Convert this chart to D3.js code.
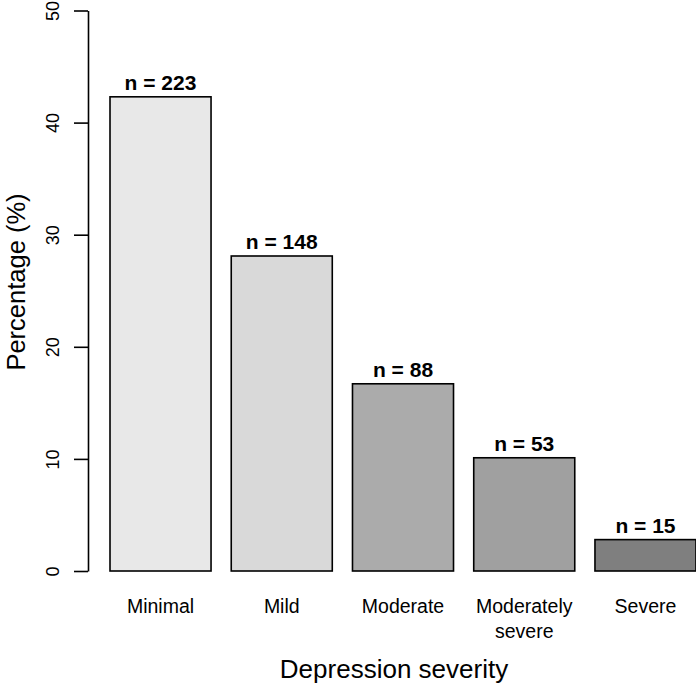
<!DOCTYPE html>
<html>
<head>
<meta charset="utf-8">
<script src="https://cdn.jsdelivr.net/npm/d3@7"></script>
<style>
  body { margin: 0; background: #fff; }
  svg { display: block; font-family: "Liberation Sans", Arial, sans-serif; }
</style>
</head>
<body>
<div id="chart"></div>
<script>
// Depression severity categories (second line of a label goes after "\n")
const categories = ["Minimal", "Mild", "Moderate", "Moderately\nsevere", "Severe"];
// Percentage of respondents in each category
const percentages = [42.3, 28.1, 16.7, 10.1, 2.8];
// Counts written above the bars
const counts = [223, 148, 88, 53, 15];
// Bar fill greys
const fills = ["#e8e8e8", "#d9d9d9", "#ababab", "#a0a0a0", "#7f7f7f"];
// Y axis ticks
const yTicks = [0, 10, 20, 30, 40, 50];

const width = 696, height = 685;

//Plot bounds
const plot = {left: 89.8, right: 716.2, top: 10.5, bottom: 571};

const svg = d3.select("#chart").append("svg")
    .attr("width", width)
    .attr("height", height);

//Scales
const xScale = d3.scaleBand()
    .domain(categories)
    .range([plot.left, plot.right])
    .paddingInner(1 / 6)
    .paddingOuter(1 / 6);

const yScale = d3.scaleLinear()
    .domain([0, 50])
    .range([plot.bottom, plot.top]);

//Bars
svg.append("g").selectAll("rect")
    .data(categories)
    .join("rect")
    .attr("x", d => xScale(d))
    .attr("y", (d, i) => yScale(percentages[i]))
    .attr("width", xScale.bandwidth())
    .attr("height", (d, i) => yScale(0) - yScale(percentages[i]))
    .attr("fill", (d, i) => fills[i])
    .attr("stroke", "#000")
    .attr("stroke-width", 1.6);

//Count labels above bars
svg.append("g").selectAll("text")
    .data(categories)
    .join("text")
    .attr("x", d => xScale(d) + xScale.bandwidth() / 2)
    .attr("y", (d, i) => yScale(percentages[i]) - 7)
    .attr("text-anchor", "middle")
    .attr("font-weight", "bold")
    .attr("font-size", "21px")
    .attr("fill", "#000")
    .text((d, i) => "n = " + counts[i]);

//Y axis, R style (no ticks past the ends, labels rotated)
const yAxis = svg.append("g")
    .attr("transform", "translate(88,0)")
    .call(d3.axisLeft(yScale).tickValues(yTicks).tickSize(14).tickPadding(0).tickSizeOuter(0));
yAxis.select(".domain").attr("stroke", "#000").attr("stroke-width", 1.6);
yAxis.selectAll(".tick line").attr("stroke", "#000").attr("stroke-width", 1.6);
yAxis.selectAll(".tick text")
    .attr("x", 0)
    .attr("dy", null)
    .attr("transform", "translate(-29,0) rotate(-90)")
    .attr("text-anchor", "middle")
    .attr("font-size", "18px")
    .attr("font-family", "Liberation Sans, Arial, sans-serif")
    .attr("fill", "#000");

//Category labels
const catLabels = svg.append("g").selectAll("text")
    .data(categories)
    .join("text")
    .attr("x", d => xScale(d) + xScale.bandwidth() / 2)
    .attr("y", 613)
    .attr("text-anchor", "middle")
    .attr("font-size", "19.5px")
    .attr("fill", "#000");
catLabels.selectAll("tspan")
    .data(d => d.split("\n"))
    .join("tspan")
    .attr("x", function () { return this.parentNode.getAttribute("x"); })
    .attr("dy", (d, i) => i === 0 ? 0 : 25)
    .text(d => d);

//Axis titles
svg.append("text")
    .attr("x", 394)
    .attr("y", 678)
    .attr("text-anchor", "middle")
    .attr("font-size", "26px")
    .attr("fill", "#000")
    .text("Depression severity");

svg.append("text")
    .attr("transform", "translate(25,282) rotate(-90)")
    .attr("text-anchor", "middle")
    .attr("font-size", "25.5px")
    .attr("fill", "#000")
    .text("Percentage (%)");
</script>
</body>
</html>
